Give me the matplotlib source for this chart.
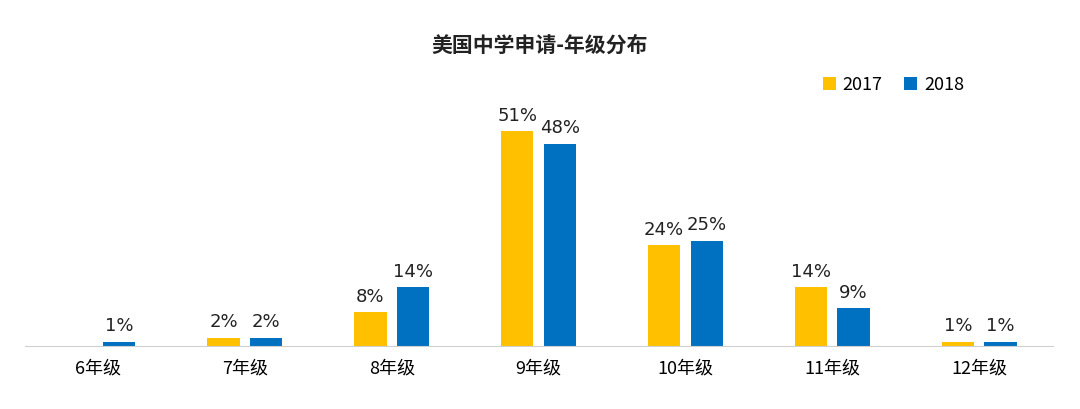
import matplotlib
matplotlib.use("Agg")
import matplotlib.pyplot as plt
import numpy as np

plt.rcParams['font.family'] = ['Noto Sans CJK SC', 'DejaVu Sans']

categories = ['6年级', '7年级', '8年级', '9年级', '10年级', '11年级', '12年级']
v2017 = [0, 2, 8, 51, 24, 14, 1]
v2018 = [1, 2, 14, 48, 25, 9, 1]

fig = plt.figure(figsize=(10.8, 4.09), dpi=100)
ax = fig.add_axes([0.0227, 0.154, 0.952, 0.62])
x = np.arange(len(categories))
w = 0.22
off = 0.145
c1, c2 = '#FFC000', '#0070C0'
b1 = ax.bar(x - off, v2017, w, color=c1, label='2017')
b2 = ax.bar(x + off, v2018, w, color=c2, label='2018')
for xs, vals in ((x - off, v2017), (x + off, v2018)):
    for xi, v in zip(xs, vals):
        if v > 0:
            ax.text(xi, v + 1.5, f'{v}%', ha='center', va='bottom', fontsize=13, color='#222222', family='DejaVu Sans')
ax.set_xlim(-0.5, len(categories) - 0.5)
ax.set_ylim(0, 51 * 1.0 / (215 / 253.6))
ax.set_xticks(x)
ax.set_xticklabels(categories, fontsize=13)
ax.tick_params(axis='x', length=0, pad=10)
ax.set_yticks([])
for s in ['top', 'right', 'left']:
    ax.spines[s].set_visible(False)
ax.spines['bottom'].set_color('#d0d0d0')
fig.text(0.5, 0.89, '美国中学申请-年级分布', ha='center', va='center', fontsize=15, fontweight='bold', color='#222222')
ax.legend(loc='upper right', bbox_to_anchor=(0.93, 1.13), ncol=2, frameon=False, fontsize=13,
          handlelength=0.7, handleheight=0.7, columnspacing=1.2, handletextpad=0.4)
fig.savefig('out.png', dpi=100)
